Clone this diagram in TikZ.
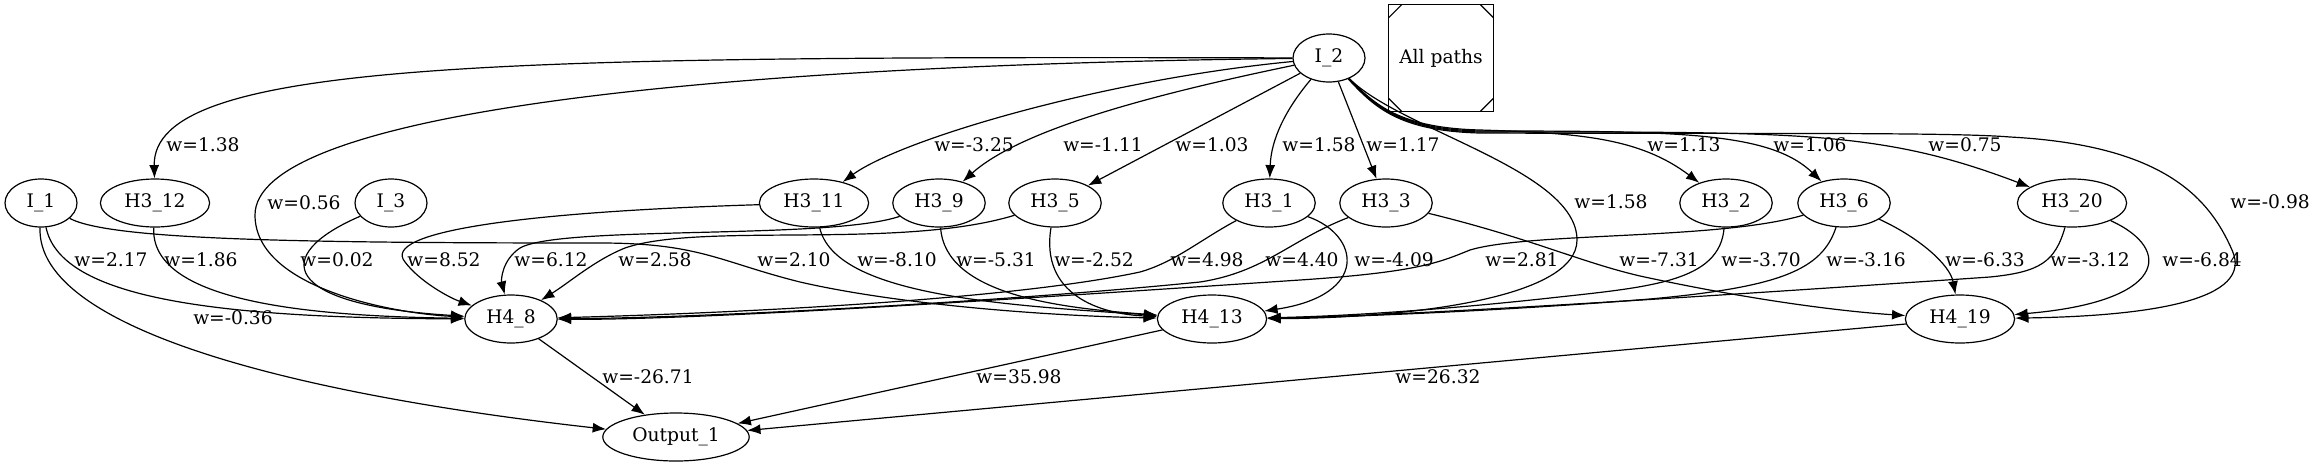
\documentclass[tikz,border=0pt]{standalone}
\usepackage{fontspec}
\setmainfont{DejaVu Serif}
\usepackage{tikz}
\usetikzlibrary{arrows.meta}
\usetikzlibrary{shapes}
\usetikzlibrary{shapes.geometric}

\begin{document}
\begin{tikzpicture}[x=0.75pt, y=-0.75pt,
  font=\fontsize{14pt}{17pt}\selectfont,
  line width=0.9pt,
  nd/.style={ellipse, draw, minimum width=54pt, minimum height=36pt, inner xsep=6pt, inner ysep=2pt},
  msq/.style={rectangle, draw, minimum width=79pt, minimum height=80pt,
    path picture={
      \draw ([yshift=-10pt]path picture bounding box.north west) -- ([xshift=10pt]path picture bounding box.north west);
      \draw ([yshift=-10pt]path picture bounding box.north east) -- ([xshift=-10pt]path picture bounding box.north east);
      \draw ([yshift=10pt]path picture bounding box.south west) -- ([xshift=10pt]path picture bounding box.south west);
      \draw ([yshift=10pt]path picture bounding box.south east) -- ([xshift=-10pt]path picture bounding box.south east);
    }},
  wt/.style={inner sep=0pt},
  link/.style={-{Latex[length=10pt, width=7.5pt]}}]

\path [use as bounding box, fill=white] (0, 0) rectangle (2316, 465);

% nodes
\node [nd] (I2) at (1329, 58) {I\_2};
\node [msq] (AP) at (1441, 58) {All paths};
\node [nd] (I1) at (41, 203) {I\_1};
\node [nd] (H312) at (155, 203) {H3\_12};
\node [nd] (I3) at (391, 203) {I\_3};
\node [nd] (H311) at (814, 203) {H3\_11};
\node [nd] (H39) at (939, 203) {H3\_9};
\node [nd] (H35) at (1055, 203) {H3\_5};
\node [nd] (H31) at (1269, 203) {H3\_1};
\node [nd] (H33) at (1386, 203) {H3\_3};
\node [nd] (H32) at (1726, 203) {H3\_2};
\node [nd] (H36) at (1844, 203) {H3\_6};
\node [nd] (H320) at (2072, 203) {H3\_20};
\node [nd] (H48) at (511, 319) {H4\_8};
\node [nd] (H413) at (1212, 319) {H4\_13};
\node [nd] (H419) at (1960, 319) {H4\_19};
\node [nd] (O1) at (676, 437) {Output\_1};

% edges out of I_2
\draw [link] (I2) .. controls (500, 56) and (152, 60) .. (H312);
\draw [link] (I2) .. controls (650, 66) and (255, 120) .. (255, 215) .. controls (255, 290) and (400, 314) .. (H48);
\draw [link] (I2) .. controls (1100, 80) and (900, 140) .. (H311);
\draw [link] (I2) .. controls (1150, 95) and (1020, 130) .. (H39);
\draw [link] (I2) to (H35);
\draw [link] (I2) .. controls (1285, 110) and (1271, 140) .. (H31);
\draw [link] (I2) to (H33);
\draw [link] (I2) .. controls (1400, 130) and (1577, 170) .. (1577, 240) .. controls (1577, 300) and (1400, 318) .. (H413);
\draw [link] (I2) .. controls (1375, 105) and (1400, 128) .. (1480, 130) .. controls (1580, 133) and (1640, 138) .. (H32);
\draw [link] (I2) .. controls (1375, 106) and (1400, 129) .. (1480, 131) .. controls (1680, 131) and (1770, 132) .. (H36);
\draw [link] (I2) .. controls (1375, 107) and (1400, 130) .. (1480, 132) .. controls (1800, 132) and (1880, 130) .. (H320);
\draw [link] (I2) .. controls (1375, 108) and (1400, 131) .. (1480, 133) .. controls (1750, 134) and (1950, 132) .. (2010, 137)
  .. controls (2160, 145) and (2208, 195) .. (2232, 250) .. controls (2255, 300) and (2150, 316) .. (H419);

% edges out of I_1, I_3 and H3_12
\draw [link] (I1) .. controls (60, 295) and (200, 318) .. (H48);
\draw [link] (I1) .. controls (110, 240) and (300, 243) .. (600, 243) .. controls (700, 243) and (720, 262) .. (800, 282)
  .. controls (900, 305) and (1050, 316) .. (H413);
\draw [link] (I1) .. controls (36, 330) and (300, 395) .. (O1);
\draw [link] (H312) .. controls (150, 300) and (300, 316) .. (H48);
\draw [link] (I3) .. controls (270, 255) and (280, 305) .. (H48);

% edges into H4_8
\draw [link] (H311) .. controls (520, 212) and (380, 232) .. (405, 262) .. controls (420, 282) and (450, 298) .. (H48);
\draw [link] (H39) .. controls (830, 240) and (560, 225) .. (520, 248) .. controls (502, 260) and (501, 280) .. (H48);
\draw [link] (H35) .. controls (900, 250) and (700, 222) .. (625, 248) .. controls (595, 260) and (570, 282) .. (H48);
\draw [link] (H31) .. controls (1200, 240) and (1175, 262) .. (1140, 272) .. controls (1000, 302) and (700, 314) .. (H48);
\draw [link] (H33) .. controls (1290, 240) and (1265, 272) .. (1200, 282) .. controls (1000, 302) and (700, 318) .. (H48);
\draw [link] (H36) .. controls (1720, 240) and (1530, 232) .. (1470, 250) .. controls (1440, 262) and (1420, 272) .. (1300, 280)
  .. controls (1000, 300) and (700, 320) .. (H48);

% edges into H4_13
\draw [link] (H311) .. controls (835, 295) and (1000, 305) .. (H413);
\draw [link] (H39) .. controls (945, 295) and (1060, 308) .. (H413);
\draw [link] (H35) .. controls (1040, 295) and (1100, 314) .. (H413);
\draw [link] (H31) .. controls (1360, 235) and (1370, 295) .. (H413);
\draw [link] (H32) .. controls (1720, 282) and (1650, 287) .. (1550, 298) .. controls (1450, 309) and (1350, 316) .. (H413);
\draw [link] (H36) .. controls (1822, 270) and (1780, 287) .. (1650, 299) .. controls (1500, 311) and (1350, 317) .. (H413);
\draw [link] (H320) .. controls (2055, 262) and (2040, 272) .. (1990, 277) .. controls (1700, 297) and (1400, 316) .. (H413);

% edges into H4_19
\draw [link] (H33) .. controls (1530, 238) and (1580, 262) .. (1640, 276) .. controls (1760, 302) and (1850, 312) .. (H419);
\draw [link] (H36) .. controls (1920, 238) and (1950, 265) .. (H419);
\draw [link] (H320) .. controls (2175, 250) and (2165, 302) .. (H419);

% edges into Output_1
\draw [link] (H48) to (O1);
\draw [link] (H413) to (O1);
\draw [link] (H419) to (O1);

% weights
\node [wt] (w1) at (203, 145) {w=1.38};
\node [wt] (w2) at (304, 203) {w=0.56};
\node [wt] (w3) at (974, 145) {w=-3.25};
\node [wt] (w4) at (1103, 145) {w=-1.11};
\node [wt] (w5) at (1212, 145) {w=1.03};
\node [wt] (w6) at (1319, 145) {w=1.58};
\node [wt] (w7) at (1403, 145) {w=1.17};
\node [wt] (w8) at (1611, 202) {w=1.58};
\node [wt] (w9) at (1684, 145) {w=1.13};
\node [wt] (w10) at (1810, 145) {w=1.06};
\node [wt] (w11) at (1965, 145) {w=0.75};
\node [wt] (w12) at (2270, 202) {w=-0.98};
\node [wt] (w13) at (111, 260) {w=2.17};
\node [wt] (w14) at (201, 260) {w=1.86};
\node [wt] (w15) at (337, 260) {w=0.02};
\node [wt] (w16) at (444, 260) {w=8.52};
\node [wt] (w17) at (551, 260) {w=6.12};
\node [wt] (w18) at (233, 318) {w=-0.36};
\node [wt] (w19) at (655, 260) {w=2.58};
\node [wt] (w20) at (794, 260) {w=2.10};
\node [wt] (w21) at (897, 260) {w=-8.10};
\node [wt] (w22) at (996, 260) {w=-5.31};
\node [wt] (w23) at (1094, 260) {w=-2.52};
\node [wt] (w24) at (1207, 260) {w=4.98};
\node [wt] (w25) at (1302, 260) {w=4.40};
\node [wt] (w26) at (1394, 260) {w=-4.09};
\node [wt] (w27) at (1522, 260) {w=2.81};
\node [wt] (w28) at (1659, 260) {w=-7.31};
\node [wt] (w29) at (1761, 260) {w=-3.70};
\node [wt] (w30) at (1866, 260) {w=-3.16};
\node [wt] (w31) at (1985, 260) {w=-6.33};
\node [wt] (w32) at (2090, 260) {w=-3.12};
\node [wt] (w33) at (2202, 260) {w=-6.84};
\node [wt] (w34) at (648, 377) {w=-26.71};
\node [wt] (w35) at (1019, 377) {w=35.98};
\node [wt] (w36) at (1438, 377) {w=26.32};
\end{tikzpicture}
\end{document}
